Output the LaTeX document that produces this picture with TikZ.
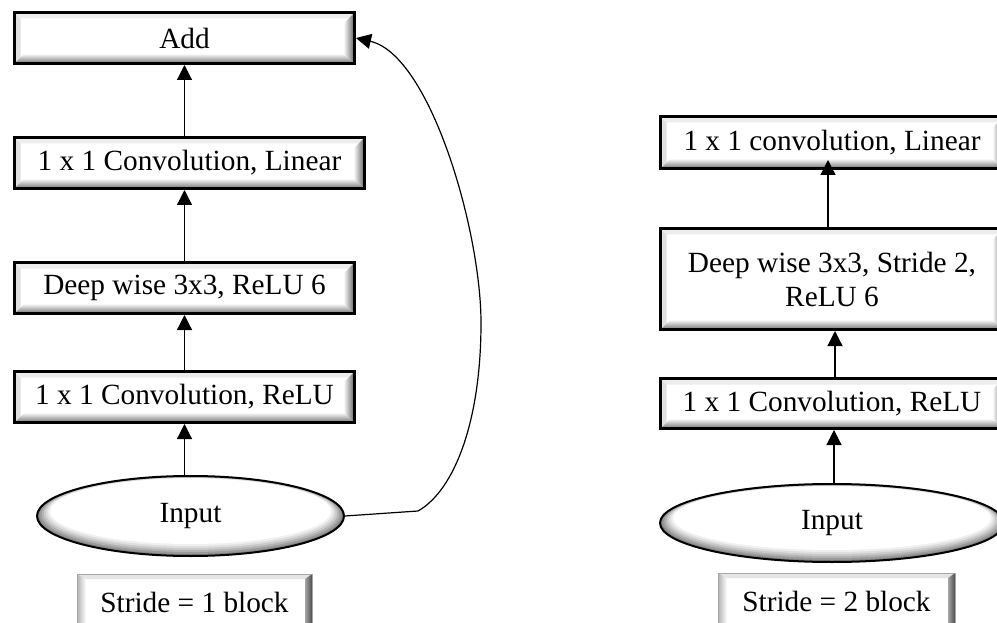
\documentclass[tikz,border=0pt]{standalone}
\usepackage{fontspec}
\setmainfont{Liberation Serif}
\usetikzlibrary{shapes.geometric,arrows.meta,calc}

\tikzset{
  lab/.style={font=\fontsize{29.3}{34}\selectfont, align=center, text=black},
  % raised box with a black frame and a bevelled rim
  bevelbox/.style={lab, rectangle, draw=black, line width=3pt, fill=white, inner sep=0pt,
    path picture={
      \coordinate (pa) at (path picture bounding box.south west);
      \coordinate (pb) at (path picture bounding box.north east);
      \fill[black!12] (pa) -- ($(pa)+(6pt,6pt)$) -- ($(pa|-pb)+(6pt,-6pt)$) -- (pa|-pb) -- cycle;
      \fill[black!7] (pa|-pb) -- ($(pa|-pb)+(6pt,-6pt)$) -- ($(pb)+(-6pt,-6pt)$) -- (pb) -- cycle;
      \shade[left color=white, right color=black!62]
        ($(pb)+(-11pt,-11pt)$) -- (pb) -- (pb|-pa) -- ($(pb|-pa)+(-11pt,10pt)$) -- cycle;
      \shade[top color=white, bottom color=black!55]
        (pa) -- ($(pa)+(10pt,10pt)$) -- ($(pb|-pa)+(-11pt,10pt)$) -- (pb|-pa) -- cycle;
    }},
  % caption button with a thin grey frame
  capbox/.style={lab, rectangle, draw=black!35, line width=1pt, fill=white, inner sep=0pt,
    path picture={
      \coordinate (pa) at (path picture bounding box.south west);
      \coordinate (pb) at (path picture bounding box.north east);
      \fill[black!10] (pa|-pb) -- ($(pa|-pb)+(9pt,-5pt)$) -- ($(pb)+(-7pt,-5pt)$) -- (pb) -- cycle;
      \shade[left color=black!30, right color=white]
        (pa) -- ($(pa)+(9pt,0pt)$) -- ($(pa|-pb)+(9pt,-5pt)$) -- (pa|-pb) -- cycle;
      \shade[left color=black!35, right color=black!70]
        ($(pb)+(-7pt,-5pt)$) -- (pb) -- (pb|-pa) -- ($(pb|-pa)+(-7pt,0pt)$) -- cycle;
    }},
  % shaded input ellipse
  inellipse/.style={lab, ellipse, draw=black, line width=2pt, fill=black!50, inner sep=0pt,
    path picture={
      \foreach \d/\c in {2/40,4/30,6/21,8/13,10/6,12/0}{
        \fill[black!\c] let \p1=(path picture bounding box.south west),
                            \p2=(path picture bounding box.north east) in
          ({(\x1+\x2)/2},{(\y1+\y2)/2+0.4*\d*1pt})
          ellipse [x radius={(\x2-\x1)/2-1.1*\d*1pt}, y radius={(\y2-\y1)/2-0.6*\d*1pt}];
      }
    }},
  arr/.style={line width=1.2pt, draw=black, -{Triangle[width=15pt,length=15pt]}}
}

\begin{document}
\begin{tikzpicture}[x=1pt, y=-1pt]
  \fill[white] (0,0) rectangle (997,623);
  \useasboundingbox (0,0) rectangle (997,623);

  % ---- stride 1 block ----
  \node[bevelbox, minimum width=340pt, minimum height=51pt] (add)  at (184.5,38)  {Add};
  \node[bevelbox, minimum width=350pt, minimum height=51pt] (lin1) at (189.5,163) {1 x 1 Convolution, Linear};
  \node[bevelbox, minimum width=340pt, minimum height=51pt] (dw1)  at (184.5,288) {Deep wise 3x3, ReLU 6};
  \node[bevelbox, minimum width=340pt, minimum height=51pt] (rl1)  at (184.5,397) {1 x 1 Convolution, ReLU};
  \node[inellipse, minimum width=307pt, minimum height=80pt] (in1) at (190.5,516) {Input};
  \node[capbox, minimum width=235pt, minimum height=56pt] (cap1) at (194.5,602) {Stride = 1 block};

  \draw[arr] (in1.north -| rl1.south) -- (rl1.south);
  \draw[arr] (rl1.north) -- (dw1.south);
  \draw[arr] (dw1.north) -- (lin1.south -| dw1.north);
  \draw[arr] (lin1.north -| add.south) -- (add.south);

  % shortcut from the input to the adder
  \coordinate (bend) at (418,511);
  \coordinate (far)  at (481,323);
  \draw[arr] (in1.east) -- (bend)
    .. controls (455,490) and (481,420) .. (far)
    .. controls (481,230) and (430,55) .. (add.east);

  % ---- stride 2 block ----
  \node[bevelbox, minimum width=343pt, minimum height=52pt]  (lin2) at (832,142.5) {1 x 1 convolution, Linear};
  \node[bevelbox, minimum width=343pt, minimum height=101pt] (dw2)  at (832,279)   {Deep wise 3x3, Stride 2,\\ReLU 6};
  \node[bevelbox, minimum width=343pt, minimum height=50pt]  (rl2)  at (832,403.5) {1 x 1 Convolution, ReLU};
  \node[inellipse, minimum width=344pt, minimum height=78pt] (in2) at (832,523) {Input};
  \node[capbox, minimum width=237pt, minimum height=57pt] (cap2) at (836.5,601.5) {Stride = 2 block};

  \draw[arr] ([xshift=2pt]in2.north) -- ([xshift=2pt]rl2.south);
  \draw[arr] ([xshift=3pt]rl2.north) -- ([xshift=3pt]dw2.south);
  \draw[arr] ([xshift=-4pt]dw2.north) -- ([xshift=-4pt,yshift=10pt]lin2.south);
\end{tikzpicture}
\end{document}
